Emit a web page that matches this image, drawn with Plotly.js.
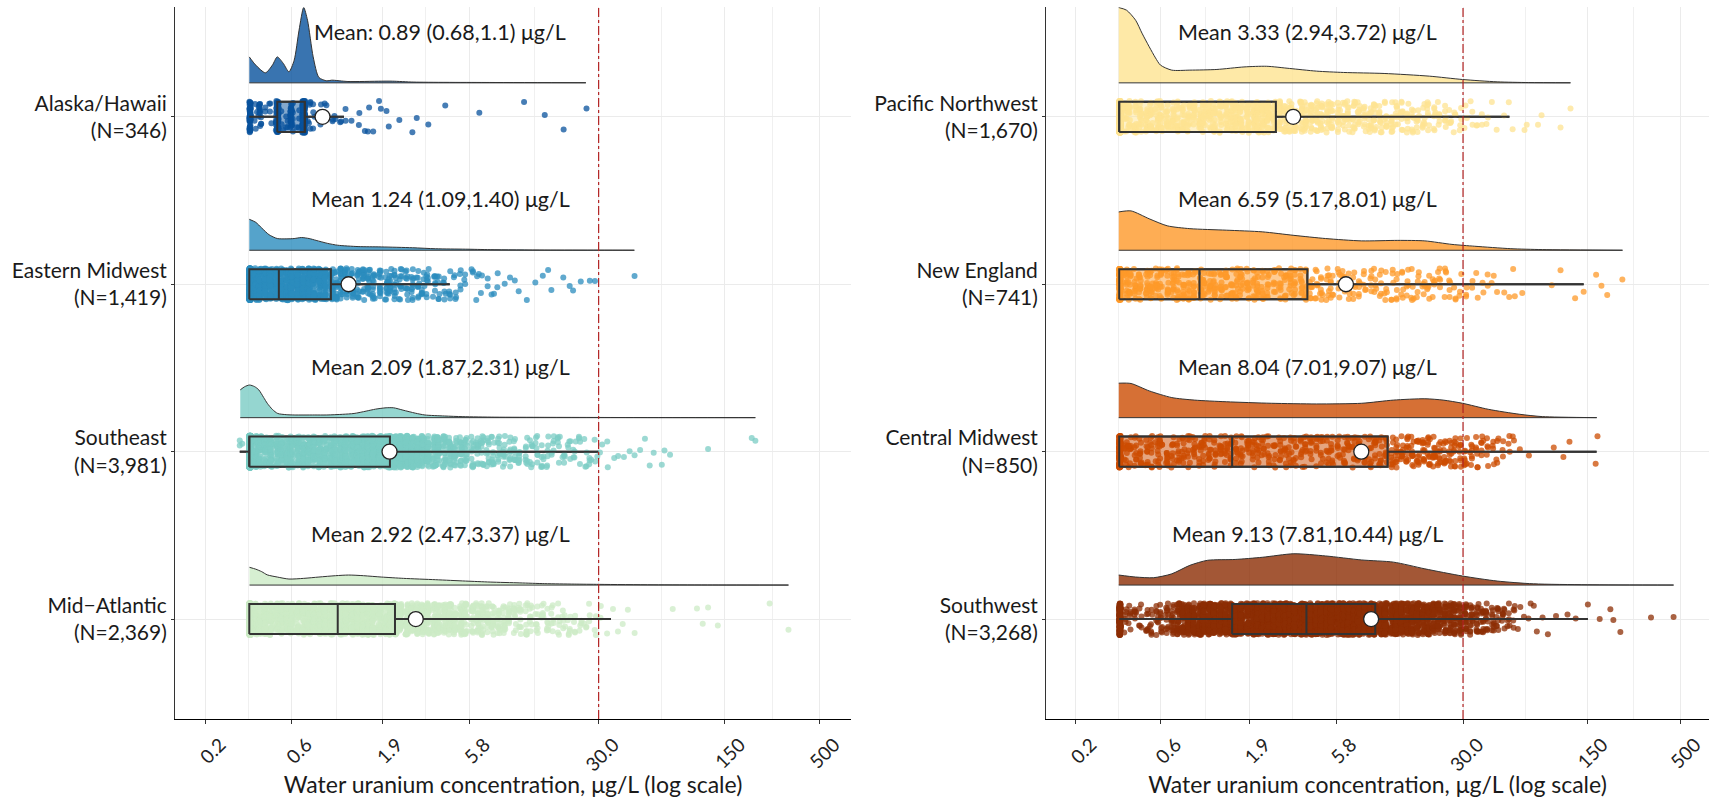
<!DOCTYPE html>
<html><head><meta charset="utf-8">
<script src="https://cdn.plot.ly/plotly-3.0.1.min.js"></script>
<style>html,body{margin:0;padding:0;background:#fff}#chart{width:1709px;height:798px}</style>
</head><body><div id="chart"></div>
<script>
// ================= DATA =================
const leftRegions  = ['Alaska/Hawaii', 'Eastern Midwest', 'Southeast', 'Mid\u2212Atlantic'];
const leftN        = ['346', '1,419', '3,981', '2,369'];
const rightRegions = ['Pacific Northwest', 'New England', 'Central Midwest', 'Southwest'];
const rightN       = ['1,670', '741', '850', '3,268'];

const leftMeanText  = ['Mean: 0.89 (0.68,1.1) \u03bcg/L', 'Mean 1.24 (1.09,1.40) \u03bcg/L',
                       'Mean 2.09 (1.87,2.31) \u03bcg/L', 'Mean 2.92 (2.47,3.37) \u03bcg/L'];
const rightMeanText = ['Mean 3.33 (2.94,3.72) \u03bcg/L', 'Mean 6.59 (5.17,8.01) \u03bcg/L',
                       'Mean 8.04 (7.01,9.07) \u03bcg/L', 'Mean 9.13 (7.81,10.44) \u03bcg/L'];

const leftMeans  = [0.89, 1.24, 2.09, 2.92];
const rightMeans = [3.33, 6.59, 8.04, 9.13];

// box statistics: [lower whisker, Q1, median, Q3, upper whisker]
const boxAlaska  = [0.35, 0.50, 0.71, 0.71, 1.17];
const boxEastMW  = [0.35, 0.35, 0.51, 0.99, 4.5];
const boxSouthE  = [0.31, 0.35, 0.35, 2.10, 29.9];
const boxMidAtl  = [0.35, 0.35, 1.08, 2.24, 35.1];
const boxPacNW   = [0.35, 0.35, 0.35, 2.66, 54.7];
const boxNewEng  = [0.35, 0.35, 0.99, 4.0, 143];
const boxCentMW  = [0.35, 0.35, 1.51, 11.3, 169];
const boxSouthW  = [0.35, 1.51, 3.95, 9.63, 151];

// density curves (concentration, density height)
const densXAlaska = [0.35,0.38,0.43,0.47,0.5,0.54,0.58,0.62,0.66,0.7,0.735,0.79,0.85,0.94,1.0,1.23,1.88,2.17,2.85,7.5,25.5];
const densYAlaska = [1.55,1.06,0.6,1.06,1.55,1.16,0.66,1.35,3.15,4.5,3.74,1.55,0.32,0.12,0.16,0.08,0.1,0.1,0.045,0.022,0.01];
const densXEastMW = [0.35,0.38,0.41,0.45,0.5,0.56,0.62,0.68,0.75,0.82,0.95,1.08,1.4,1.88,2.8,3.76,5.5,7.53,15.1,30,47.3];
const densYEastMW = [1.85,1.67,1.33,0.93,0.7,0.68,0.7,0.76,0.7,0.59,0.41,0.3,0.22,0.2,0.15,0.09,0.065,0.037,0.013,0.007,0.004];
const densXSouthE = [0.312,0.33,0.351,0.375,0.395,0.42,0.44,0.47,0.503,0.56,0.62,0.8,0.94,1.15,1.33,1.55,1.75,2.0,2.2,2.48,2.9,3.28,4.2,5.32,8,15.1,30,60,120,221];
const densYSouthE = [1.66,1.85,1.95,1.85,1.66,1.21,0.86,0.49,0.25,0.18,0.16,0.16,0.16,0.2,0.25,0.39,0.51,0.59,0.59,0.45,0.27,0.16,0.1,0.06,0.03,0.02,0.012,0.006,0.004,0.002];
const densXMidAtl = [0.351,0.38,0.41,0.44,0.5,0.58,0.7,0.85,1.05,1.24,1.5,1.88,2.5,3.76,5.5,7.53,11,15.1,22,30.3,60,120,337];
const densYMidAtl = [1.06,0.95,0.8,0.61,0.48,0.36,0.4,0.48,0.56,0.6,0.56,0.48,0.4,0.32,0.24,0.18,0.13,0.085,0.058,0.042,0.016,0.006,0.001];
const densXPacNW  = [0.348,0.385,0.433,0.47,0.516,0.56,0.597,0.691,0.874,1.24,1.76,2.36,3.17,4.5,6.39,10.8,19.4,29.8,46.7,70,120.6];
const densYPacNW  = [4.5,4.34,3.74,2.97,2.16,1.49,1.06,0.76,0.76,0.8,0.95,0.99,0.86,0.7,0.62,0.56,0.4,0.2,0.06,0.018,0.005];
const densXNewEng = [0.348,0.408,0.516,0.652,0.874,1.4,2.23,3.36,5.06,8.08,12.9,18.3,26,34.9,55.7,83.9,236.5];
const densYNewEng = [2.29,2.35,1.88,1.46,1.29,1.2,1.1,0.89,0.7,0.56,0.59,0.56,0.35,0.24,0.094,0.04,0.002];
const densXCentMW = [0.348,0.408,0.516,0.691,0.926,1.4,2.51,4.5,8.08,12.2,18.3,23.2,29.8,41.6,62.6,83.9,169.4];
const densYCentMW = [2.06,2.04,1.6,1.2,1.05,0.95,0.86,0.82,0.86,1.05,1.13,1.05,0.86,0.5,0.2,0.063,0.002];
const densXSouthW = [0.348,0.433,0.547,0.691,0.874,1.1,1.57,2.23,3.36,5.06,8.08,12.2,18.3,29.8,46.7,74.6,150.7,458];
const densYSouthW = [0.6,0.48,0.44,0.67,1.18,1.48,1.53,1.66,1.87,1.74,1.5,1.37,0.97,0.54,0.24,0.075,0.019,0.002];

// sample cloud: concentration values and number of samples at each value (frequency table)
const cloudValues = [0.35,0.38,0.4,0.43,0.46,0.5,0.53,0.57,0.6,0.65,
  0.7,0.75,0.8,0.86,0.92,1,1.05,1.13,1.2,1.3,
  1.4,1.5,1.6,1.7,1.85,2,2.1,2.25,2.4,2.6,
  2.8,3,3.2,3.4,3.7,3.9,4.2,4.5,4.8,5.2,
  5.5,6,6.4,6.8,7.3,7.8,8.4,9,9.6,10.3,
  11,12,12.7,13.6,14.6,15.6,16.7,18,19.2,20.6,
  22,23.7,25.4,27,29,31,33.4,36,38.4,41,
  44,47,50.6,54,58];
const countAlaska = [52,4,14,2,4,55,3,4,28,4, 133,6,4,2,2,2,2,2,2,1, 2,1,2,1,2,1,1,0,1,0, 1,1,0,1,0,0,1,0,0,0,
  0,0,0,0,0,0,0,0,0,0, 0,0,0,0,0,0,0,0,0,0, 0,0,0,0,0,0,0,0,0,0, 0,0,0,0,0];
const countEastMW = [485,45,45,45,45,45,44,44,45,48, 49,45,40,35,29,24,20,18,17,15, 14,14,14,13,13,12,12,11,11,10,
  10,9,8,8,7,6,6,5,5,4, 3,3,3,2,2,2,2,1,1,1, 1,1,0,1,1,1,1,0,1,1, 1,1,0,1,1,0,0,0,0,0, 0,0,0,0,0];
const countSouthE = [2000,30,30,30,30,30,28,28,28,28, 28,28,28,28,28,28,30,33,36,41, 49,62,69,82,92,99,99,99,82,75,
  60,48,40,34,30,27,24,21,19,17, 15,14,13,12,11,11,10,10,9,9, 8,8,7,7,7,6,6,6,5,5, 5,4,4,4,3,2,2,1,1,1, 1,1,1,1,1];
const countMidAtl = [600,33,32,32,31,31,31,31,32,33, 35,37,39,42,44,47,49,51,52,53, 52,50,48,46,43,41,40,39,37,36,
  34,33,32,31,30,29,28,27,26,24, 22,20,19,18,18,16,15,14,13,12, 11,10,9,8,8,7,7,6,6,6, 4,4,3,3,3,2,1,1,1,1, 1,1,0,0,0];
const countPacNW  = [820,15,15,15,15,15,15,15,15,15, 14,14,14,14,14,14,15,15,15,15, 15,16,17,18,18,19,19,19,18,18,
  17,17,16,16,15,15,15,14,14,13, 13,12,12,12,12,11,11,11,11,11, 10,10,9,9,9,8,8,8,8,7, 6,6,5,4,4,3,3,2,2,2, 1,1,1,1,1];
const countNewEng = [190,12,12,12,12,12,12,12,12,12, 12,12,12,12,12,11,11,11,11,11, 11,11,11,11,11,9,9,9,9,9,
  9,9,9,9,9,8,8,7,7,7, 7,6,6,6,6,5,5,5,5,5, 5,5,5,5,5,5,5,5,5,5, 5,4,4,3,3,3,2,2,2,2, 2,1,1,1,1];
const countCentMW = [215,9,9,9,9,9,9,9,9,9, 9,9,9,9,9,9,9,9,9,9, 9,9,9,9,9,9,8,8,8,8,
  8,8,8,8,8,8,8,8,8,8, 8,8,8,8,8,8,8,9,9,9, 10,10,10,11,11,11,11,11,11,11, 10,10,9,9,8,8,7,6,6,5, 4,4,3,3,2];
const countSouthW = [170,6,6,6,6,7,7,8,9,12, 18,25,35,41,45,50,52,55,57,57, 58,58,58,59,60,62,62,63,64,66,
  67,69,70,71,71,70,69,68,67,66, 65,64,62,61,59,58,57,56,55,55, 53,52,50,47,44,41,39,37,34,31,
  28,25,23,22,21,18,16,14,13,11, 10,9,8,6,5];
// individual far-out samples
const extraAlaska = [6.56, 11.6, 15.1, 19.2, 25.7];
const extraEastMW = [47.4];
const extraSouthE = [0.31, 0.31, 0.32, 60.5, 67.1, 69.4, 74.5, 121, 211, 221];
const extraMidAtl = [77.1, 105, 113, 121, 137, 265, 337];
const extraPacNW  = [66.5, 68.4, 79.2, 82.9, 106, 120.6];
const extraNewEng = [57.4, 64.6, 94.6, 106, 128, 143, 168, 180, 194, 236];
const extraCentMW = [62.6, 70.4, 97.1, 110, 119, 167, 171];
const extraSouthW = [61, 63, 66, 70, 72, 75, 78, 84, 90, 100, 116, 129, 151, 176, 202, 210, 230, 342, 458];

const tickVals  = [0.2, 0.6, 1.9, 5.8, 30, 150, 500];
const tickText  = ['0.2', '0.6', '1.9', '5.8', '30.0', '150', '500'];
const guideline = 30;

// ================= STYLE =================
const colLeft  = ['8,81,156', '43,140,190', '123,204,196', '204,235,197'];
const colRight = ['254,227,145', '254,153,41', '204,76,2', '140,45,4'];
const rowPos = [4, 3, 2, 1];
const FONT = 'Lato, "Open Sans", sans-serif';
const DENS_OFF = 0.203, DENS_SCALE = 0.1, BOX_HALF = 0.09, JIT_Y = 0.095, JIT_X = 0.008;

function hash(i, k) { const s = Math.sin(i * 12.9898 + k * 78.233) * 43758.5453; return s - Math.floor(s); }

const traces = [];
const annotations = [];
let seed = 0;

function addGroup(xa, ya, pos, rgb, dx, dy, counts, extra, st, mean, txt) {
  const base = pos + DENS_OFF;
  traces.push({type:'scatter', mode:'lines', xaxis:xa, yaxis:ya, x:[dx[0], dx[dx.length-1]], y:[base, base],
    line:{color:'#333333', width:1}, hoverinfo:'skip', showlegend:false});
  traces.push({type:'scatter', mode:'lines', xaxis:xa, yaxis:ya, x:dx, y:dy.map(v => base + v * DENS_SCALE),
    line:{color:'#333333', width:1, shape:'spline', smoothing:0.7}, fill:'tonexty',
    fillcolor:'rgba(' + rgb + ',0.8)', hoverinfo:'skip', showlegend:false});
  traces.push({type:'box', orientation:'h', xaxis:xa, yaxis:ya, y:[pos],
    lowerfence:[st[0]], q1:[st[1]], median:[st[2]], q3:[st[3]], upperfence:[st[4]],
    width:BOX_HALF * 2, whiskerwidth:0, fillcolor:'rgba(' + rgb + ',0.5)',
    line:{color:'#333333', width:2}, boxpoints:false, hoverinfo:'skip', showlegend:false});
  const px = [], py = [];
  counts.forEach((c, b) => {
    for (let j = 0; j < c; j++) {
      seed++;
      const xo = b === 0 ? hash(seed, 1) * JIT_X : (hash(seed, 1) - 0.5) * 2 * JIT_X;
      px.push(cloudValues[b] * Math.pow(10, xo));
      py.push(pos + (hash(seed, 2) - 0.5) * 2 * JIT_Y);
    }
  });
  extra.forEach(v => { seed++; px.push(v); py.push(pos + (hash(seed, 2) - 0.5) * 2 * JIT_Y); });
  traces.push({type:'scatter', mode:'markers', xaxis:xa, yaxis:ya, x:px, y:py,
    marker:{size:6, color:'rgba(' + rgb + ',0.75)', line:{width:0}}, hoverinfo:'skip', showlegend:false});
  traces.push({type:'scatter', mode:'lines', xaxis:xa, yaxis:ya,
    x:[st[1], st[3], st[3], st[1], st[1], null, st[2], st[2], null, st[0], st[1], null, st[3], st[4]],
    y:[pos-BOX_HALF, pos-BOX_HALF, pos+BOX_HALF, pos+BOX_HALF, pos-BOX_HALF, null, pos-BOX_HALF, pos+BOX_HALF,
       null, pos, pos, null, pos, pos],
    line:{color:'#333333', width:2}, hoverinfo:'skip', showlegend:false});
  traces.push({type:'scatter', mode:'markers', xaxis:xa, yaxis:ya, x:[mean], y:[pos],
    marker:{size:15, color:'#ffffff', line:{color:'#222222', width:1.3}}, hoverinfo:'skip', showlegend:false});
  annotations.push({xref:xa, yref:ya, x:Math.log10(4), y:pos + 0.507, text:txt, showarrow:false,
    font:{family:FONT, size:21.5, color:'#1a1a1a'}, xanchor:'center', yanchor:'middle'});
}

addGroup('x', 'y', rowPos[0], colLeft[0], densXAlaska, densYAlaska, countAlaska, extraAlaska, boxAlaska, leftMeans[0], leftMeanText[0]);
addGroup('x', 'y', rowPos[1], colLeft[1], densXEastMW, densYEastMW, countEastMW, extraEastMW, boxEastMW, leftMeans[1], leftMeanText[1]);
addGroup('x', 'y', rowPos[2], colLeft[2], densXSouthE, densYSouthE, countSouthE, extraSouthE, boxSouthE, leftMeans[2], leftMeanText[2]);
addGroup('x', 'y', rowPos[3], colLeft[3], densXMidAtl, densYMidAtl, countMidAtl, extraMidAtl, boxMidAtl, leftMeans[3], leftMeanText[3]);
addGroup('x2', 'y2', rowPos[0], colRight[0], densXPacNW, densYPacNW, countPacNW, extraPacNW, boxPacNW, rightMeans[0], rightMeanText[0]);
addGroup('x2', 'y2', rowPos[1], colRight[1], densXNewEng, densYNewEng, countNewEng, extraNewEng, boxNewEng, rightMeans[1], rightMeanText[1]);
addGroup('x2', 'y2', rowPos[2], colRight[2], densXCentMW, densYCentMW, countCentMW, extraCentMW, boxCentMW, rightMeans[2], rightMeanText[2]);
addGroup('x2', 'y2', rowPos[3], colRight[3], densXSouthW, densYSouthW, countSouthW, extraSouthW, boxSouthW, rightMeans[3], rightMeanText[3]);

const minorGrid = [0.346, 1.068, 3.32, 13.19, 67.08, 273.9];

function xAxis(domain, range, anchor) {
  return {type:'log', domain:domain, range:range, anchor:anchor,
    tickvals:tickVals, ticktext:tickText, tickangle:-45, ticks:'outside', ticklen:4, tickcolor:'#333333',
    ticklabelstandoff:2, ticklabelshift:15,
    tickfont:{family:FONT, size:19, color:'#222222'},
    showline:true, linecolor:'#000000', linewidth:1.3, mirror:false,
    showgrid:true, gridcolor:'#ebebeb', gridwidth:1, zeroline:false,
    minor:{tickvals:minorGrid, showgrid:true, gridcolor:'#f0f0f0', gridwidth:1, ticks:''},
    title:{text:'Water uranium concentration, \u03bcg/L (log scale)', font:{family:FONT, size:23, color:'#1a1a1a'}, standoff:36},
    fixedrange:true};
}
function yAxis(regions, ns, anchor) {
  return {domain:[0.099, 0.991], range:[0.403, 4.655], anchor:anchor,
    tickvals:rowPos, ticktext:regions.map((r, i) => r + '<br>(N=' + ns[i] + ')'),
    ticks:'outside', ticklen:3, tickcolor:'#333333',
    tickfont:{family:FONT, size:21, color:'#1a1a1a'},
    showline:true, linecolor:'#333333', linewidth:1, showgrid:true, gridcolor:'#ebebeb', zeroline:false,
    fixedrange:true};
}

const layout = {
  width:1709, height:798, autosize:false,
  margin:{l:0, r:0, t:0, b:0, pad:0},
  paper_bgcolor:'#ffffff', plot_bgcolor:'#ffffff',
  showlegend:false, hovermode:false,
  font:{family:FONT, color:'#1a1a1a'},
  xaxis: xAxis([0.1024, 0.498], [-0.867, 2.874], 'y'),
  yaxis: yAxis(leftRegions, leftN, 'x'),
  xaxis2: xAxis([0.6121, 1.0], [-0.867, 2.86], 'y2'),
  yaxis2: yAxis(rightRegions, rightN, 'x2'),
  boxmode:'overlay',
  annotations: annotations,
  shapes: [
    {type:'line', xref:'x', yref:'y domain', x0:guideline, x1:guideline, y0:0, y1:1, layer:'above',
     line:{color:'#b22222', width:1.2, dash:'dashdot'}},
    {type:'line', xref:'x2', yref:'y2 domain', x0:guideline, x1:guideline, y0:0, y1:1, layer:'above',
     line:{color:'#b22222', width:1.2, dash:'dashdot'}}
  ]
};

Plotly.newPlot('chart', traces, layout, {displayModeBar:false, staticPlot:true});
</script>
</body></html>
